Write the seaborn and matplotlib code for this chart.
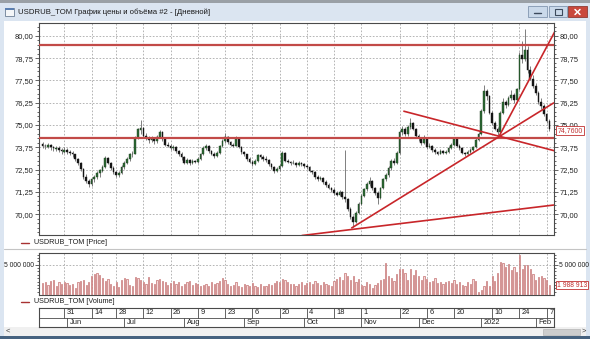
import numpy as np
import pandas as pd
import matplotlib
matplotlib.use('Agg')
import matplotlib.pyplot as plt
import seaborn as sns
from matplotlib.patches import Rectangle
from matplotlib.lines import Line2D
from matplotlib.ticker import FixedLocator, MultipleLocator, FuncFormatter

sns.set_style('white')
plt.rcParams['font.family'] = ['Liberation Sans', 'DejaVu Sans']

# ---------------- data ----------------
start_date = '2021-05-19'
end_date = '2022-02-08'
holidays = ['2021-06-14', '2021-11-04', '2022-01-07']

opens = [73.95, 73.85, 73.75, 73.90, 73.75, 73.65, 73.72, 73.60, 73.50, 73.62,
         73.50, 73.45, 73.35, 73.10, 72.85, 72.55, 72.10, 71.85, 71.70, 71.95,
         72.10, 72.30, 72.45, 72.65, 73.15, 72.90, 72.60, 72.35, 72.20, 72.30,
         72.65, 72.90, 73.10, 73.35, 73.40, 74.30, 74.70, 74.85, 74.40, 74.30,
         74.15, 74.25, 74.10, 74.35, 74.60, 74.20, 73.90, 73.85, 73.70, 73.75,
         73.55, 73.40, 73.20, 72.90, 73.05, 72.85, 73.00, 72.95, 73.10, 73.35,
         73.70, 73.85, 73.55, 73.40, 73.25, 73.45, 73.80, 74.10, 74.35, 74.05,
         73.90, 73.85, 74.25, 73.75, 73.50, 73.35, 73.10, 72.95, 72.80, 73.00,
         73.30, 73.20, 73.10, 73.05, 72.80, 72.65, 72.40, 72.55, 72.70, 73.45,
         73.00, 72.95, 72.85, 72.90, 72.75, 72.90, 72.80, 72.70, 72.65, 72.45,
         72.35, 72.10, 71.95, 72.05, 71.80, 71.65, 71.50, 71.35, 71.20, 71.10,
         71.25, 70.95, 70.85, 70.30, 69.85, 69.55, 70.10, 70.60, 71.05, 71.40,
         71.70, 71.85, 71.45, 71.20, 70.90, 71.50, 71.95, 72.20, 72.60, 73.00,
         72.85, 73.45, 74.60, 74.80, 74.50, 74.90, 75.10, 74.80, 74.40, 74.25,
         74.00, 74.20, 73.75, 73.85, 73.60, 73.50, 73.40, 73.55, 73.45, 73.50,
         73.70, 73.90, 74.20, 73.85, 73.70, 73.45, 73.35, 73.50, 73.60, 73.75,
         74.15, 74.50, 75.80, 76.90, 76.60, 75.70, 75.10, 74.80, 74.60, 75.70,
         76.30, 76.10, 76.50, 76.70, 76.40, 77.00, 78.90, 78.70, 79.20, 78.10,
         77.60, 77.20, 76.80, 76.30, 76.05, 75.60, 75.20]
highs = [74.05, 73.95, 74.00, 73.95, 73.85, 73.85, 73.80, 73.70, 73.75, 73.70,
         73.60, 73.55, 73.40, 73.15, 72.95, 72.60, 72.25, 72.00, 72.05, 72.20,
         72.40, 72.55, 72.75, 73.25, 73.20, 72.95, 72.70, 72.45, 72.45, 72.75,
         73.00, 73.20, 73.45, 73.55, 74.40, 74.85, 75.30, 74.90, 74.55, 74.40,
         74.40, 74.35, 74.45, 74.70, 74.65, 74.25, 74.05, 73.95, 73.90, 73.80,
         73.60, 73.50, 73.25, 73.15, 73.10, 73.10, 73.05, 73.20, 73.45, 73.80,
         73.95, 73.90, 73.60, 73.50, 73.55, 73.90, 74.20, 74.55, 74.40, 74.10,
         74.00, 74.40, 74.30, 73.80, 73.55, 73.40, 73.20, 73.05, 73.10, 73.40,
         73.35, 73.30, 73.25, 73.10, 72.90, 72.70, 72.65, 72.80, 73.55, 73.50,
         73.10, 73.00, 73.05, 72.95, 73.00, 72.95, 72.85, 72.80, 72.70, 72.50,
         72.40, 72.20, 72.15, 72.10, 71.90, 71.75, 71.55, 71.45, 71.30, 71.35,
         71.30, 73.60, 70.90, 70.40, 69.95, 70.20, 70.70, 71.15, 71.50, 71.80,
         72.10, 71.90, 71.55, 71.30, 71.55, 72.05, 72.30, 72.70, 73.10, 73.15,
         73.55, 74.70, 74.95, 74.90, 75.00, 75.40, 75.15, 74.85, 74.50, 74.35,
         74.45, 74.25, 74.00, 73.90, 73.70, 73.55, 73.65, 73.60, 73.60, 73.80,
         74.00, 74.35, 74.25, 73.95, 73.75, 73.50, 73.60, 73.70, 73.85, 74.25,
         74.60, 75.90, 77.25, 77.00, 76.70, 75.80, 75.20, 74.90, 75.80, 76.50,
         76.40, 76.65, 76.95, 76.80, 77.10, 79.10, 79.70, 80.40, 79.40, 78.30,
         77.80, 77.35, 76.90, 76.50, 76.15, 75.70, 75.35]
lows = [73.70, 73.65, 73.70, 73.60, 73.55, 73.55, 73.50, 73.40, 73.45, 73.35,
        73.30, 73.20, 73.00, 72.75, 72.45, 72.00, 71.75, 71.55, 71.60, 71.80,
        72.00, 72.10, 72.35, 72.60, 72.80, 72.50, 72.25, 72.10, 72.10, 72.25,
        72.55, 72.80, 73.00, 73.20, 73.35, 74.20, 74.50, 74.30, 74.15, 74.00,
        74.05, 73.95, 74.00, 74.25, 74.10, 73.80, 73.75, 73.60, 73.60, 73.45,
        73.25, 73.05, 72.80, 72.80, 72.75, 72.80, 72.85, 72.90, 73.05, 73.30,
        73.60, 73.45, 73.30, 73.15, 73.20, 73.40, 73.75, 74.00, 73.95, 73.80,
        73.75, 73.80, 73.70, 73.40, 73.25, 73.00, 72.85, 72.70, 72.75, 72.95,
        73.10, 73.00, 72.95, 72.70, 72.55, 72.30, 72.35, 72.45, 72.65, 72.95,
        72.85, 72.75, 72.80, 72.65, 72.70, 72.70, 72.60, 72.55, 72.35, 72.25,
        72.00, 71.85, 71.90, 71.70, 71.55, 71.40, 71.25, 71.10, 71.00, 71.05,
        70.85, 70.70, 70.20, 69.75, 69.30, 69.50, 70.00, 70.50, 70.95, 71.30,
        71.60, 71.35, 71.10, 70.60, 70.85, 71.40, 71.85, 72.10, 72.50, 72.75,
        72.80, 73.40, 74.45, 74.40, 74.40, 74.80, 74.70, 74.30, 74.10, 73.90,
        73.95, 73.65, 73.70, 73.50, 73.40, 73.30, 73.35, 73.35, 73.40, 73.45,
        73.65, 73.85, 73.75, 73.60, 73.40, 73.25, 73.30, 73.45, 73.55, 73.70,
        74.10, 74.45, 75.70, 76.40, 75.60, 75.00, 74.70, 74.45, 74.55, 75.60,
        75.95, 76.05, 76.40, 76.25, 76.35, 76.95, 78.50, 78.60, 77.90, 77.50,
        77.10, 76.70, 76.20, 75.90, 75.50, 75.10, 74.65]
closes = [73.85, 73.80, 73.90, 73.75, 73.70, 73.72, 73.60, 73.55, 73.62, 73.50,
          73.45, 73.35, 73.10, 72.85, 72.55, 72.10, 71.85, 71.70, 71.95, 72.10,
          72.30, 72.50, 72.65, 73.15, 72.90, 72.60, 72.35, 72.20, 72.30, 72.65,
          72.90, 73.10, 73.35, 73.40, 74.30, 74.75, 74.85, 74.40, 74.30, 74.15,
          74.25, 74.10, 74.35, 74.60, 74.20, 73.90, 73.85, 73.70, 73.75, 73.55,
          73.40, 73.20, 72.90, 73.05, 72.85, 73.00, 72.95, 73.10, 73.35, 73.70,
          73.85, 73.55, 73.40, 73.25, 73.45, 73.80, 74.10, 74.35, 74.05, 73.90,
          73.85, 74.25, 73.75, 73.50, 73.35, 73.10, 72.95, 72.80, 73.00, 73.30,
          73.20, 73.10, 73.05, 72.80, 72.65, 72.40, 72.55, 72.70, 73.45, 73.00,
          72.95, 72.85, 72.90, 72.75, 72.90, 72.80, 72.70, 72.65, 72.45, 72.35,
          72.10, 71.95, 72.05, 71.80, 71.65, 71.50, 71.35, 71.20, 71.10, 71.25,
          70.95, 70.85, 70.30, 69.85, 69.55, 70.10, 70.60, 71.05, 71.40, 71.70,
          71.85, 71.45, 71.20, 70.90, 71.50, 71.95, 72.20, 72.60, 73.00, 72.85,
          73.45, 74.60, 74.80, 74.50, 74.90, 75.10, 74.80, 74.40, 74.25, 74.00,
          74.20, 73.75, 73.85, 73.60, 73.50, 73.40, 73.55, 73.45, 73.50, 73.70,
          73.90, 74.20, 73.85, 73.70, 73.45, 73.35, 73.50, 73.60, 73.75, 74.15,
          74.50, 75.80, 76.90, 76.60, 75.70, 75.10, 74.80, 74.60, 75.70, 76.30,
          76.10, 76.50, 76.70, 76.40, 77.00, 78.90, 78.70, 79.20, 78.10, 77.60,
          77.20, 76.80, 76.30, 76.05, 75.60, 75.20, 74.76]
volume_mln = [2.3, 2.5, 2.0, 2.6, 2.7, 1.9, 2.4, 2.2, 2.5,
              2.3, 2.0, 2.2, 1.6, 2.4, 2.6, 2.8, 2.0, 2.5,
              3.4, 3.6, 3.7, 3.5, 3.1,
              2.6, 2.9, 2.2, 1.9, 2.4,
              1.7, 2.8, 3.1, 2.9, 2.0, 1.8,
              3.2, 3.1, 2.8, 2.5, 2.2,
              3.2, 2.3, 2.1, 2.7, 2.9,
              2.6, 2.4, 2.0, 2.3, 2.6, 2.2, 2.5, 1.9, 2.1, 2.4, 2.6, 2.0, 2.3, 2.1, 1.8,
              2.0, 2.2, 1.9, 2.4, 2.1, 2.3, 2.6, 3.1, 2.8, 2.2, 1.8, 2.0,
              2.4, 1.9, 1.7, 2.2, 2.0, 1.8, 2.3, 1.9, 1.7, 2.1, 1.8, 1.9, 2.2, 2.0, 2.3, 2.6,
              2.4, 2.9, 2.8, 2.5, 2.2, 2.1, 1.9, 2.2,
              2.4, 2.0, 2.3, 2.5,
              2.1, 2.6, 2.3, 2.0, 2.5, 2.2, 2.0, 1.8, 2.6, 2.9, 3.2, 2.7,
              3.8, 3.4, 2.8, 3.3, 2.5,
              2.9, 2.0, 1.9, 2.4, 2.2, 1.6, 2.0, 2.3, 2.7,
              2.9, 5.2, 3.3, 3.1, 2.6, 3.6, 4.3, 4.4, 3.7, 2.8, 4.3, 3.5, 4.2, 3.3, 2.7, 3.4,
              2.9, 2.4, 2.6, 3.1, 2.3, 2.5, 2.2, 2.4, 2.6, 2.3,
              2.7, 2.2, 2.5, 2.0, 1.8, 2.4, 2.1, 2.9, 2.6,
              1.0, 1.3,
              1.9, 2.6, 1.8, 3.4, 2.6, 3.7,
              5.4, 5.3, 4.6, 5.1, 4.2, 4.7, 3.9, 6.4, 4.3,
              5.0, 4.9, 4.4,
              3.6, 2.8, 3.2, 3.4, 3.1, 2.7, 1.99]
last_price_label = '74,7600'
last_volume_label = '1 988 913'
last_volume_mln = 1.988913

price_ticks = [70.00, 71.25, 72.50, 73.75, 75.00, 76.25, 77.50, 78.75, 80.00]
level_lines = [79.48, 74.27]
# trend lines: (trading-day index, price) endpoints
trend_i0 = [113.3, 95.1, 167.3, 132.4]
trend_p0 = [69.22, 68.81, 74.30, 75.78]
trend_i1 = [187.7, 187.7, 188.1, 187.8]
trend_p1 = [76.25, 70.52, 80.26, 73.56]

day_tick_dates = ['2021-05-31', '2021-06-14', '2021-06-28', '2021-07-12', '2021-07-26',
                  '2021-08-09', '2021-08-23', '2021-09-06', '2021-09-20', '2021-10-04',
                  '2021-10-18', '2021-11-01', '2021-11-22', '2021-12-06', '2021-12-20',
                  '2022-01-10', '2022-01-24', '2022-02-07']
day_tick_labels = ['31', '14', '28', '12', '26', '9', '23', '6', '20', '4', '18', '1',
                   '22', '6', '20', '10', '24', '7']
month_dates = ['2021-06-01', '2021-07-01', '2021-08-01', '2021-09-01', '2021-10-01',
               '2021-11-01', '2021-12-01', '2022-01-01', '2022-02-01']
month_labels = ['Jun', 'Jul', 'Aug', 'Sep', 'Oct', 'Nov', 'Dec', '2022', 'Feb']

title = 'USDRUB_TOM График цены и объёма #2 - [Дневной]'
price_legend = 'USDRUB_TOM [Price]'
volume_legend = 'USDRUB_TOM [Volume]'

# ---------------- calendar ----------------
dates = pd.bdate_range(start_date, end_date)
dates = dates[~dates.isin(pd.to_datetime(holidays))]
n = len(closes)
if not (len(dates) == n == len(opens) == len(highs) == len(lows) == len(volume_mln)):
    raise ValueError((len(dates), n, len(opens), len(highs), len(lows), len(volume_mln)))
idx = np.arange(n)
day_pos = [int(dates.searchsorted(pd.Timestamp(d))) for d in day_tick_dates]
month_pos = [int(dates.searchsorted(pd.Timestamp(d))) for d in month_dates]

# ---------------- figure / window chrome ----------------
W, H = 590, 339
fig = plt.figure(figsize=(W / 100, H / 100), dpi=100)
fig.patch.set_facecolor('white')


def frac(x0, y0, x1, y1):
    return [x0 / W, 1 - y1 / H, (x1 - x0) / W, (y1 - y0) / H]


def prect(x0, y0, x1, y1, **kw):
    fig.add_artist(Rectangle((x0 / W, 1 - y1 / H), (x1 - x0) / W, (y1 - y0) / H,
                             transform=fig.transFigure, **kw))


def ptext(x, y, s, **kw):
    fig.text(x / W, 1 - y / H, s, **kw)


def pline(xs, ys, **kw):
    fig.add_artist(Line2D([x / W for x in xs], [1 - y / H for y in ys],
                          transform=fig.transFigure, **kw))


frame = '#dbe5f1'
prect(0, 0, W, 21, facecolor=frame, edgecolor='none', zorder=-5)
prect(0, 0, W, 3, facecolor='#9aa0a6', edgecolor='none', zorder=-4)
prect(0, 21, 4, 336, facecolor=frame, edgecolor='none', zorder=-5)
prect(586, 21, W, 336, facecolor=frame, edgecolor='none', zorder=-5)
prect(4, 327, 586, 336, facecolor='#f0f0f0', edgecolor='none', zorder=-4)
prect(543, 328.5, 580, 334.5, facecolor='#cdcdcd', edgecolor='#b5b5b5', linewidth=0.5)
prect(0, 336, W, H, facecolor='#46627f', edgecolor='none', zorder=-4)
ptext(8, 331.5, '<', fontsize=5.5, color='#404040', ha='center', va='center')
ptext(584, 331.5, '>', fontsize=5.5, color='#404040', ha='center', va='center')
# title icon and text
prect(5, 8, 14, 16, facecolor='#f4f6f8', edgecolor='#6d7f95', linewidth=0.6)
prect(5, 8, 14, 10, facecolor='#5b7fb0', edgecolor='none')
ptext(18, 12.5, title, fontsize=5.6, color='#1a1a1a', ha='left', va='center')
# window buttons
prect(528, 6, 547, 17, facecolor='#cad9ea', edgecolor='#8196b0', linewidth=0.6)
prect(549, 6, 567, 17, facecolor='#cad9ea', edgecolor='#8196b0', linewidth=0.6)
prect(568, 6, 587, 17, facecolor='#c9483c', edgecolor='#8e3a33', linewidth=0.6)
pline([534, 541], [12.5, 12.5], color='#3c4a5c', linewidth=1.0)
prect(554.5, 9, 561.5, 14.5, facecolor='none', edgecolor='#3c4a5c', linewidth=0.8)
pline([575, 580], [9.5, 14.5], color='white', linewidth=1.1)
pline([575, 580], [14.5, 9.5], color='white', linewidth=1.1)
# separators and legends
pline([4, 586], [249, 249], color='#c4c4c4', linewidth=0.8)
pline([21, 29], [243, 243], color='#a83232', linewidth=1.0)
ptext(34, 243, price_legend, fontsize=5.2, color='#1e1e1e', ha='left', va='center')
pline([21, 29], [301.5, 301.5], color='#a83232', linewidth=1.0)
ptext(34, 301.5, volume_legend, fontsize=5.2, color='#1e1e1e', ha='left', va='center')

grid_kw = dict(color='#a8a8a8', linewidth=0.6, linestyle=(0, (2, 2)), zorder=0)
spine_col = '#4a4a4a'
tick_fs = 5.4
xlim = (-1.3, n + 0.7)

# ---------------- price panel ----------------
ax = fig.add_axes(frac(39, 22.7, 554, 235))
ax.set_facecolor('white')
o = np.array(opens); c = np.array(closes); h = np.array(highs); l = np.array(lows)
up = c >= o
ax.vlines(idx, l, h, color='#6a6a6a', linewidth=0.6, zorder=2)
body_h = np.maximum(np.abs(c - o), 0.025)
ax.bar(idx[up], body_h[up], bottom=np.minimum(o, c)[up], width=0.62,
       color='#2c6a33', edgecolor='#1d3d20', linewidth=0.3, zorder=3)
ax.bar(idx[~up], body_h[~up], bottom=np.minimum(o, c)[~up], width=0.62,
       color='#151515', edgecolor='#151515', linewidth=0.3, zorder=3)
for lv in level_lines:
    ax.axhline(lv, color='#c24a48', linewidth=1.6, zorder=4)
for a0, p0, a1, p1 in zip(trend_i0, trend_p0, trend_i1, trend_p1):
    ax.plot([a0, a1], [p0, p1], color='#c8262a', linewidth=1.2, zorder=5,
            solid_capstyle='butt')
for t in price_ticks:
    ax.axhline(t, **grid_kw)
for p in day_pos:
    ax.axvline(p, **grid_kw)
ax.set_xlim(*xlim)
ax.set_ylim(68.84, 80.73)
ax.yaxis.set_major_locator(FixedLocator(price_ticks))
ax.yaxis.set_minor_locator(MultipleLocator(0.25))
ax.yaxis.set_major_formatter(FuncFormatter(lambda v, p: f'{v:.2f}'.replace('.', ',')))
ax.set_xticks([])
ax.tick_params(axis='y', which='both', left=True, right=True, labelleft=True,
               labelright=True, direction='out', colors=spine_col, labelcolor='#202020',
               labelsize=tick_fs, pad=0.8, width=0.6)
ax.tick_params(axis='y', which='major', length=3)
ax.tick_params(axis='y', which='minor', length=1.5)
for s in ax.spines.values():
    s.set_visible(True); s.set_color(spine_col); s.set_linewidth(0.8)
ax.annotate(last_price_label, xy=(1.0, closes[-1]), xycoords=('axes fraction', 'data'),
            xytext=(2.5, -1.0), textcoords='offset points', ha='left', va='center',
            fontsize=5.0, color='#c03030', zorder=10, annotation_clip=False,
            bbox=dict(boxstyle='square,pad=0.15', facecolor='white', edgecolor='#c03030',
                      linewidth=0.6))

# ---------------- volume panel ----------------
axv = fig.add_axes(frac(39, 253.3, 554, 294.7))
axv.set_facecolor('white')
sns.barplot(x=idx, y=volume_mln, ax=axv, native_scale=True, color='#f6d9d9',
            saturation=1, edgecolor='#c47272', linewidth=0.5, width=0.45,
            errorbar=None, zorder=3)
axv.axhline(5.0, **grid_kw)
for p in day_pos:
    axv.axvline(p, **grid_kw)
axv.set_xlim(*xlim)
axv.set_ylim(0.55, 6.7)
axv.set_xlabel(''); axv.set_ylabel('')
axv.set_xticks([])
axv.yaxis.set_major_locator(FixedLocator([5.0]))
axv.yaxis.set_minor_locator(MultipleLocator(0.5))
axv.yaxis.set_major_formatter(FuncFormatter(lambda v, p: '5 000 000'))
axv.tick_params(axis='y', which='both', left=True, right=True, labelleft=True,
                labelright=True, direction='out', colors=spine_col, labelcolor='#202020',
                labelsize=4.9, pad=0.6, width=0.6)
axv.tick_params(axis='y', which='major', length=3)
axv.tick_params(axis='y', which='minor', length=1.5)
for s in axv.spines.values():
    s.set_visible(True); s.set_color(spine_col); s.set_linewidth(0.8)
axv.annotate(last_volume_label, xy=(1.0, last_volume_mln), xycoords=('axes fraction', 'data'),
             xytext=(2.2, 0), textcoords='offset points', ha='left', va='center',
             fontsize=4.9, color='#c03030', zorder=10, annotation_clip=False,
             bbox=dict(boxstyle='square,pad=0.12', facecolor='white', edgecolor='#c03030',
                       linewidth=0.6))

# ---------------- date scale ----------------
axd = fig.add_axes(frac(39, 308.3, 554, 326.7))
axd.set_xlim(*xlim)
axd.set_ylim(0, 2)
axd.set_xticks([]); axd.set_yticks([])
axd.set_facecolor('white')
axd.axhline(1, color=spine_col, linewidth=0.6)
for p, lab in zip(day_pos, day_tick_labels):
    axd.plot([p, p], [1, 2], color=spine_col, linewidth=0.6)
    axd.text(p + 0.9, 1.5, lab, fontsize=tick_fs, color='#202020', ha='left', va='center')
for p, lab in zip(month_pos, month_labels):
    axd.plot([p, p], [0, 1], color=spine_col, linewidth=0.6)
    axd.text(p + 0.9, 0.5, lab, fontsize=tick_fs, color='#202020', ha='left', va='center')
for s in axd.spines.values():
    s.set_visible(True); s.set_color(spine_col); s.set_linewidth(0.8)

fig.savefig('out.png', dpi=100)
